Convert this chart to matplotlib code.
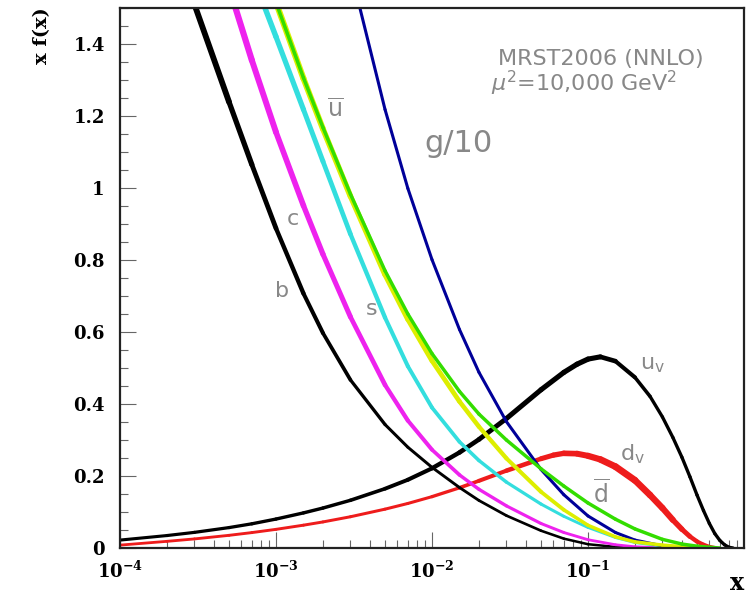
#parton distributions x f(x) vs x, MRST2006 NNLO at mu^2 = 10^4 GeV^2
import numpy as np
import matplotlib
matplotlib.use('Agg')
import matplotlib.pyplot as plt
from matplotlib.collections import LineCollection
from matplotlib.ticker import MultipleLocator, LogLocator, NullFormatter

plt.rcParams['mathtext.fontset'] = 'custom'
plt.rcParams['mathtext.bf'] = 'DejaVu Serif:bold'
plt.rcParams['mathtext.rm'] = 'DejaVu Serif:bold'

# values
x_b = [3.0e-4, 5e-4, 7e-4, 1e-3, 1.5e-3, 2e-3, 3e-3, 5e-3, 7e-3, 0.01, 0.015, 0.02, 0.03, 0.05, 0.07, 0.1, 0.15, 0.2, 0.3]
y_b = [1.51, 1.239, 1.065, 0.888, 0.707, 0.597, 0.467, 0.343, 0.280, 0.224, 0.168, 0.132, 0.090, 0.048, 0.026, 0.0105, 0.003, 0.001, 0.0]

x_c = [5.5e-4, 7e-4, 1e-3, 1.5e-3, 2e-3, 3e-3, 5e-3, 7e-3, 0.01, 0.015, 0.02, 0.03, 0.05, 0.07, 0.1, 0.15, 0.2, 0.3, 0.4]
y_c = [1.5, 1.355, 1.155, 0.951, 0.816, 0.642, 0.453, 0.354, 0.273, 0.203, 0.163, 0.117, 0.068, 0.043, 0.023, 0.009, 0.0034, 0.0005, 0.0]

x_s = [8.5e-4, 1e-3, 1.5e-3, 2e-3, 3e-3, 5e-3, 7e-3, 0.01, 0.015, 0.02, 0.03, 0.05, 0.07, 0.1, 0.15, 0.2, 0.3, 0.4, 0.5]
y_s = [1.5, 1.42, 1.218, 1.074, 0.872, 0.640, 0.505, 0.39, 0.295, 0.243, 0.183, 0.122, 0.088, 0.057, 0.029, 0.015, 0.005, 0.0015, 0.0]

x_ubar = [1.03e-3, 1.5e-3, 2e-3, 3e-3, 5e-3, 7e-3, 0.01, 0.015, 0.02, 0.03, 0.05, 0.07, 0.1, 0.15, 0.2, 0.3, 0.4, 0.5, 0.6]
y_ubar = [1.5, 1.304, 1.164, 0.977, 0.759, 0.635, 0.520, 0.407, 0.337, 0.249, 0.156, 0.106, 0.063, 0.031, 0.017, 0.008, 0.004, 0.001, 0.0]

x_dbar = [1.03e-3, 1.5e-3, 2e-3, 3e-3, 5e-3, 7e-3, 0.01, 0.015, 0.02, 0.03, 0.05, 0.07, 0.1, 0.15, 0.2, 0.3, 0.4, 0.5, 0.6, 0.7]
y_dbar = [1.5, 1.306, 1.168, 0.983, 0.77, 0.65, 0.54, 0.435, 0.372, 0.30, 0.22, 0.172, 0.125, 0.08, 0.053, 0.024, 0.011, 0.005, 0.002, 0.0]

x_g = [3.45e-3, 5e-3, 7e-3, 0.01, 0.015, 0.02, 0.03, 0.05, 0.07, 0.1, 0.15, 0.2, 0.3, 0.4, 0.5]
y_g = [1.5, 1.218, 0.999, 0.801, 0.607, 0.488, 0.351, 0.218, 0.148, 0.089, 0.043, 0.022, 0.006, 0.001, 0.0]

x_uv = [1e-4, 2e-4, 3e-4, 5e-4, 7e-4, 1e-3, 1.5e-3, 2e-3, 3e-3, 5e-3, 7e-3, 0.01, 0.015, 0.02, 0.03, 0.05,
        0.07, 0.085, 0.1, 0.12, 0.15, 0.2, 0.25, 0.3, 0.35, 0.4, 0.45, 0.5, 0.55, 0.6, 0.65, 0.7, 0.75, 0.8, 0.85]
y_uv = [0.022, 0.0346, 0.0434, 0.0567, 0.0672, 0.0804, 0.0975, 0.111, 0.1325, 0.1647, 0.1895, 0.2213, 0.2653, 0.3016,
        0.3597, 0.4396, 0.4878, 0.5105, 0.5247, 0.531, 0.519, 0.474, 0.421, 0.364, 0.307, 0.252, 0.198, 0.147, 0.104,
        0.068, 0.040, 0.021, 0.009, 0.002, 0.0]

x_dv = [1e-4, 2e-4, 3e-4, 5e-4, 7e-4, 1e-3, 1.5e-3, 2e-3, 3e-3, 5e-3, 7e-3, 0.01, 0.015, 0.02, 0.03, 0.05,
        0.06, 0.07, 0.085, 0.1, 0.12, 0.15, 0.2, 0.25, 0.3, 0.35, 0.4, 0.45, 0.5, 0.55, 0.6, 0.65]
y_dv = [0.008, 0.0185, 0.0252, 0.0352, 0.0428, 0.0518, 0.0634, 0.0724, 0.0868, 0.1079, 0.1237, 0.1426, 0.1672, 0.1866,
        0.2148, 0.248, 0.258, 0.263, 0.262, 0.256, 0.246, 0.226, 0.188, 0.147, 0.111, 0.078, 0.052, 0.032, 0.018,
        0.009, 0.003, 0.0]

ytick_vals = [0, 0.2, 0.4, 0.6, 0.8, 1.0, 1.2, 1.4]
ytick_labels = ['0', '0.2', '0.4', '0.6', '0.8', '1', '1.2', '1.4']
xtick_vals = [1e-4, 1e-3, 1e-2, 1e-1]
xtick_labels = [r'$\mathbf{10^{-4}}$', r'$\mathbf{10^{-3}}$', r'$\mathbf{10^{-2}}$', r'$\mathbf{10^{-1}}$']

def band(ax, x, y, color, lw_at, lw_val):
    #line whose width changes along x (mimics the error band)
    x = np.asarray(x); y = np.asarray(y)
    pts = np.column_stack([x, y])
    segs = np.stack([pts[:-1], pts[1:]], axis=1)
    mid = 0.5*(np.log10(x[:-1]) + np.log10(x[1:]))
    w = np.interp(mid, lw_at, lw_val)
    lc = LineCollection(segs, linewidths=w, colors=color, capstyle='round', joinstyle='round')
    ax.add_collection(lc)

fig = plt.figure(figsize=(7.48, 5.94), dpi=100)
ax = fig.add_axes([120/748, 46/594, 624/748, 540/594])
ax.set_xscale('log')
ax.set_xlim(1e-4, 1)
ax.set_ylim(0, 1.5)

band(ax, x_uv, y_uv, 'black', [-4, -2.5, -1.5, -1, -0.6], [2.2, 2.5, 3.6, 3.8, 2.4])
band(ax, x_dv, y_dv, '#ee1c1c', [-4, -2, -1.3, -0.8, -0.5, -0.3], [2.0, 2.2, 3.5, 5.0, 4.5, 3.0])
band(ax, x_b, y_b, 'black', [-3.6, -3.0, -2.3, -1], [4.6, 3.3, 2.2, 1.8])
band(ax, x_c, y_c, '#ee22ee', [-3.3, -2.5, -1.8, -1], [4.6, 3.5, 2.5, 2.0])
band(ax, x_s, y_s, '#33dede', [-3.1, -2.3, -1], [4.0, 3.0, 2.0])
band(ax, x_g, y_g, '#000099', [-3, 0], [2.2, 2.2])
band(ax, x_ubar, y_ubar, '#ddee00', [-3, -2, -1], [4.5, 3.5, 2.5])
band(ax, x_dbar, y_dbar, '#33dd00', [-3, 0], [2.5, 2.5])

# axes look
for sp in ax.spines.values():
    sp.set_linewidth(1.6)
    sp.set_color('#222222')
ax.set_yticks(ytick_vals)
ax.set_yticklabels(ytick_labels, fontfamily='DejaVu Serif', fontweight='bold', fontsize=13)
ax.yaxis.set_minor_locator(MultipleLocator(0.05))
ax.set_xticks(xtick_vals)
ax.set_xticklabels(xtick_labels, fontsize=13)
ax.xaxis.set_minor_locator(LogLocator(base=10, subs=np.arange(2, 10)))
ax.xaxis.set_minor_formatter(NullFormatter())
ax.tick_params(which='major', direction='in', length=11.5, width=0.8, color='#666666', top=False, right=False)
ax.tick_params(which='minor', direction='in', length=6, width=0.8, color='#666666', top=False, right=False)
ax.tick_params(axis='y', which='major', pad=11)
ax.tick_params(axis='x', which='major', pad=9)

fig.text(42/748, 1-36/594, 'x f(x)', rotation=90, ha='center', va='center',
         family='DejaVu Serif', weight='bold', fontsize=14)
fig.text(737/748, 4/594, 'x', ha='center', va='baseline',
         family='DejaVu Serif', weight='bold', fontsize=17)

gray = '#888888'
T = ax.transAxes
ax.text(0.771, 0.894, 'MRST2006 (NNLO)', color=gray, fontsize=16, ha='center', va='baseline', transform=T)
ax.text(0.744, 0.846, r'$\mu^2$=10,000 GeV$^2$', color=gray, fontsize=16, ha='center', va='baseline',
        math_fontfamily='dejavusans', transform=T)
ax.text(0.542, 0.733, 'g/10', color=gray, fontsize=22, ha='center', va='baseline', transform=T)
ax.text(0.3446, 0.798, r'$\overline{\mathrm{u}}$', color=gray, fontsize=17, ha='center', va='baseline',
        math_fontfamily='dejavusans', transform=T)
ax.text(0.277, 0.598, 'c', color=gray, fontsize=16, ha='center', va='baseline', transform=T)
ax.text(0.260, 0.465, 'b', color=gray, fontsize=16, ha='center', va='baseline', transform=T)
ax.text(0.404, 0.4315, 's', color=gray, fontsize=16, ha='center', va='baseline', transform=T)
ax.text(0.833, 0.330, r'u$_\mathrm{v}$', color=gray, fontsize=16, ha='left', va='baseline',
        math_fontfamily='dejavusans', transform=T)
ax.text(0.801, 0.163, r'd$_\mathrm{v}$', color=gray, fontsize=16, ha='left', va='baseline',
        math_fontfamily='dejavusans', transform=T)
ax.text(0.772, 0.0833, r'$\overline{\mathrm{d}}$', color=gray, fontsize=17, ha='center', va='baseline',
        math_fontfamily='dejavusans', transform=T)

fig.savefig('out.png', dpi=100)
